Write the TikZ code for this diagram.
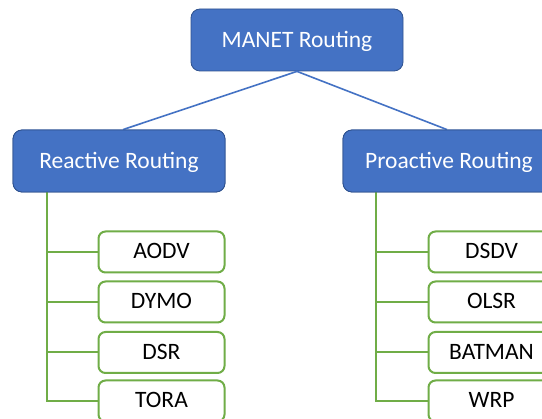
\documentclass[tikz,border=0pt]{standalone}
\usepackage{fontspec}
\setmainfont{Carlito}
\definecolor{boxblue}{HTML}{4472C4}
\definecolor{edgeblue}{HTML}{2F528F}
\definecolor{leafgreen}{HTML}{70AD47}
\begin{document}
\begin{tikzpicture}[x=1pt,y=-1pt,
  topbox/.style={draw=edgeblue,line width=0.8pt,fill=boxblue,rounded corners=9pt,
    minimum width=212pt,minimum height=62pt,inner sep=0pt,text=white,
    text height=16pt,text depth=0pt,
    font=\fontsize{23.5}{27}\selectfont},
  leafbox/.style={draw=leafgreen,line width=2pt,fill=white,rounded corners=7pt,
    minimum width=126pt,minimum height=41pt,inner sep=0pt,text=black,
    text height=14pt,text depth=0pt,
    font=\fontsize{23.5}{27}\selectfont},
  blueline/.style={draw=boxblue,line width=1.6pt},
  greenline/.style={draw=leafgreen,line width=2pt}]
\useasboundingbox (0,0) rectangle (542,419);
\clip (0,0) rectangle (542,419);
\fill[white] (0,0) rectangle (542,419);
% top
\node[topbox] (manet) at (297,40) {MANET Routing};
\node[topbox] (reactive) at (119,161) {Reactive Routing};
\node[topbox] (proactive) at (449,161) {Proactive Routing};
\draw[blueline] (manet.south) -- ([xshift=4pt]reactive.north);
\draw[blueline] (manet.south) -- ([xshift=-2pt]proactive.north);
% left leaves
\node[leafbox] (aodv) at (161.5,252) {AODV};
\node[leafbox] (dymo) at (161.5,302) {DYMO};
\node[leafbox] (dsr)  at (161.5,352.5) {DSR};
\node[leafbox] (tora) at (161.5,401) {TORA};
% right leaves
\node[leafbox] (dsdv)   at (491.5,252) {DSDV};
\node[leafbox] (olsr)   at (491.5,302) {OLSR};
\node[leafbox] (batman) at (491.5,352.5) {BATMAN};
\node[leafbox] (wrp)    at (491.5,401) {WRP};
% green trees
\coordinate (lroot) at (47,192);
\coordinate (rroot) at (376,192);
\draw[greenline] (lroot) |- (tora.west);
\draw[greenline] (aodv.west) -- (aodv.west -| lroot);
\draw[greenline] (dymo.west) -- (dymo.west -| lroot);
\draw[greenline] (dsr.west) -- (dsr.west -| lroot);
\draw[greenline] (rroot) |- (wrp.west);
\draw[greenline] (dsdv.west) -- (dsdv.west -| rroot);
\draw[greenline] (olsr.west) -- (olsr.west -| rroot);
\draw[greenline] (batman.west) -- (batman.west -| rroot);
% redraw top boxes over lines
\node[topbox] at (reactive) {Reactive Routing};
\node[topbox] at (proactive) {Proactive Routing};
\end{tikzpicture}
\end{document}
